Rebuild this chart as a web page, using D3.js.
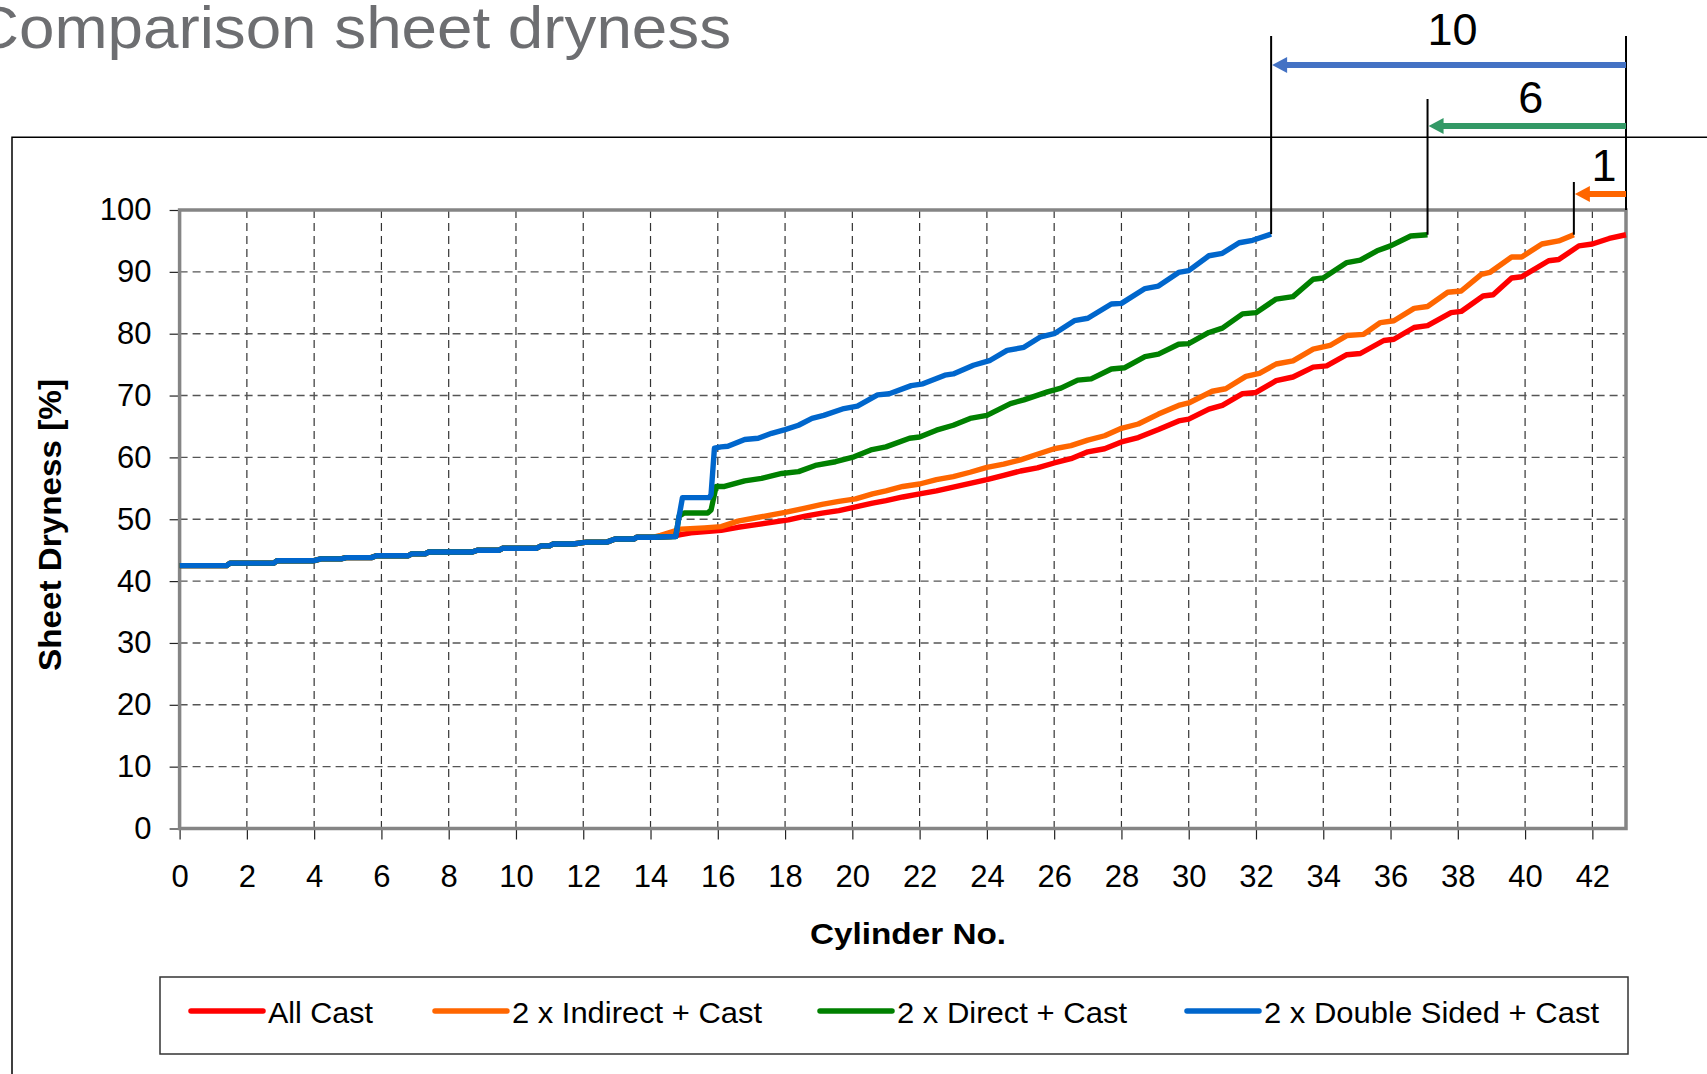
<!DOCTYPE html>
<html><head><meta charset="utf-8">
<script src="https://cdn.jsdelivr.net/npm/d3@7"></script>
<style>
body{margin:0;background:#fff;}
svg{display:block;}
text{font-family:"Liberation Sans",Arial,sans-serif;}
</style>
</head><body>
<svg id="chart" width="1707" height="1074"></svg>
<script>
// ---------- DATA ----------
const titleText = "Comparison sheet dryness";
const xAxisTitle = "Cylinder No.";
const yAxisTitle = "Sheet Dryness [%]";
const xTickValues = [0,2,4,6,8,10,12,14,16,18,20,22,24,26,28,30,32,34,36,38,40,42];
const yTickValues = [0,10,20,30,40,50,60,70,80,90,100];

const seriesNames  = ["All Cast","2 x Indirect + Cast","2 x Direct + Cast","2 x Double Sided + Cast"];
const seriesColors = ["#ff0000","#ff6600","#008000","#0066cc"];

// shared first section (all four curves coincide)
const commonX = [0,1.4,1.5,2.8,2.9,4.0,4.2,4.8,4.95,5.7,5.85,6.8,6.9,7.3,7.4,8.7,8.85,9.5,9.6,10.6,10.75,11.0,11.1,11.7,12.1,12.7,12.95,13.5,13.6,14.1];
const commonY = [42.5,42.5,42.9,42.9,43.3,43.3,43.6,43.6,43.8,43.8,44.1,44.1,44.4,44.4,44.7,44.7,45.0,45.0,45.3,45.3,45.7,45.7,46.0,46.0,46.3,46.3,46.8,46.8,47.1,47.1];

const allCastX = [14.6,14.9,15.2,16.1,16.6,17.1,17.6,18.1,18.6,19.1,19.6,20.1,20.6,21.0,21.5,22.0,22.5,23.0,23.5,24.0,24.5,25.0,25.5,26.0,26.5,27.0,27.5,28.0,28.5,29.1,29.7,30.0,30.6,31.0,31.6,32.0,32.6,33.1,33.7,34.1,34.7,35.1,35.8,36.1,36.7,37.1,37.8,38.1,38.75,39.05,39.6,39.9,40.7,41.0,41.6,42.0,42.5,43.0];
const allCastY = [47.2,47.5,47.8,48.2,48.7,49.1,49.5,49.9,50.5,51.0,51.4,52.0,52.6,53.0,53.6,54.1,54.6,55.2,55.8,56.4,57.1,57.8,58.3,59.1,59.8,60.9,61.4,62.5,63.2,64.5,65.9,66.2,67.8,68.4,70.3,70.5,72.4,73.0,74.6,74.8,76.6,76.8,78.9,79.1,81.0,81.3,83.4,83.6,86.1,86.3,89.0,89.2,91.8,92.0,94.2,94.5,95.4,96.0];

const indirectX = [14.3,14.9,15.6,16.1,16.6,17.1,17.6,18.0,18.6,19.1,19.6,20.1,20.6,21.0,21.5,22.0,22.5,23.0,23.5,24.0,24.5,25.0,25.5,26.0,26.5,27.0,27.5,28.0,28.5,29.1,29.7,30.0,30.7,31.1,31.7,32.1,32.6,33.1,33.7,34.2,34.7,35.2,35.7,36.1,36.7,37.1,37.7,38.1,38.7,38.95,39.6,39.9,40.5,41.0,41.45];
const indirectY = [47.4,48.4,48.6,48.8,49.7,50.2,50.7,51.1,51.8,52.4,52.9,53.3,54.1,54.6,55.3,55.7,56.4,56.9,57.6,58.4,58.9,59.6,60.5,61.4,61.9,62.8,63.5,64.7,65.4,67.0,68.4,68.8,70.7,71.1,73.1,73.6,75.1,75.6,77.5,78.1,79.7,79.9,81.8,82.1,84.1,84.4,86.7,86.9,89.6,89.9,92.4,92.4,94.5,95.0,96.0];

const directX = [14.75,14.85,15.0,15.7,15.8,15.95,16.2,16.8,17.3,17.9,18.4,18.9,19.5,20.05,20.55,21.0,21.7,22.0,22.5,23.0,23.5,24.0,24.7,25.1,25.8,26.2,26.7,27.1,27.7,28.1,28.7,29.1,29.7,30.0,30.6,31.0,31.6,32.0,32.6,33.1,33.7,34.0,34.7,35.1,35.6,36.0,36.6,37.1];
const directY = [47.2,50.5,51.0,51.0,51.5,55.3,55.3,56.2,56.6,57.4,57.7,58.7,59.3,60.1,61.2,61.7,63.1,63.3,64.4,65.2,66.3,66.8,68.7,69.3,70.6,71.2,72.5,72.7,74.3,74.5,76.3,76.7,78.3,78.4,80.2,80.9,83.2,83.4,85.6,86.0,88.8,89.0,91.5,91.9,93.4,94.2,95.8,96.0];

const doubleX = [14.75,14.85,14.95,15.75,15.8,15.9,16.1,16.3,16.8,17.2,17.6,18.0,18.4,18.8,19.15,19.75,20.15,20.75,21.1,21.75,22.1,22.75,23.0,23.6,24.1,24.6,25.1,25.6,26.0,26.6,27.0,27.7,28.0,28.7,29.1,29.7,30.0,30.6,31.0,31.5,31.9,32.45];
const doubleY = [47.2,50.5,53.5,53.5,54.0,61.5,61.7,61.8,62.9,63.1,63.9,64.5,65.2,66.3,66.8,67.9,68.3,70.1,70.3,71.6,71.9,73.3,73.5,74.9,75.7,77.3,77.8,79.5,80.0,82.1,82.5,84.8,84.9,87.3,87.7,89.9,90.2,92.6,93.0,94.7,95.1,96.1];

// annotations: cylinders saved vs "All Cast"
const annotLabels = ["10","6","1"];
const annotSeries = [3,2,1];
const annotColors = ["#4472c4","#339966","#ff6600"];

// ---------- LAYOUT ----------
const W = 1707, H = 1074;
const plot = {left:179.6, right:1626, top:210, bottom:828.5};
const svg = d3.select("#chart");

const x = d3.scaleLinear().domain([0,43]).range([plot.left, plot.right]);
const y = d3.scaleLinear().domain([0,100]).range([plot.bottom, plot.top]);

const tails = [[allCastX,allCastY],[indirectX,indirectY],[directX,directY],[doubleX,doubleY]];
const series = tails.map((t,i)=>({
  name: seriesNames[i], color: seriesColors[i],
  pts: commonX.map((cx,j)=>[cx,commonY[j]]).concat(t[0].map((tx,j)=>[tx,t[1][j]]))
}));

// outer frame (extends beyond the view)
svg.append("path")
  .attr("d", `M12,${H+5} L12,137.3 L${W+5},137.3`)
  .attr("fill","none").attr("stroke","#000").attr("stroke-width",1.5);

// title
svg.append("text").text(titleText)
  .attr("x",-27).attr("y",48)
  .attr("font-size",60).attr("fill","#6d6e71")
  .attr("textLength",758).attr("lengthAdjust","spacingAndGlyphs");

// grid
const g = svg.append("g");
g.selectAll("line.vg").data(xTickValues.filter(v=>v>0)).join("line")
  .attr("x1",d=>x(d)).attr("x2",d=>x(d))
  .attr("y1",plot.top).attr("y2",plot.bottom)
  .attr("stroke","#333").attr("stroke-width",1.2).attr("stroke-dasharray","8,5");
g.selectAll("line.hg").data(yTickValues.filter(v=>v>0 && v<100)).join("line")
  .attr("x1",plot.left).attr("x2",plot.right)
  .attr("y1",d=>y(d)).attr("y2",d=>y(d))
  .attr("stroke","#555").attr("stroke-width",1.4).attr("stroke-dasharray","8,5");

// axes
const xAxis = svg.append("g").attr("transform",`translate(0,${plot.bottom})`)
  .call(d3.axisBottom(x).tickValues(xTickValues).tickSize(11).tickPadding(25).tickFormat(d3.format("d")));
const yAxis = svg.append("g").attr("transform",`translate(${plot.left},0)`)
  .call(d3.axisLeft(y).tickValues(yTickValues).tickSize(10).tickPadding(18).tickFormat(d3.format("d")));
[xAxis,yAxis].forEach(a=>{
  a.select(".domain").remove();
  a.selectAll(".tick line").attr("stroke","#222").attr("stroke-width",1.2);
  a.selectAll(".tick text").attr("font-size",31).attr("fill","#000")
    .attr("font-family","'Liberation Sans',Arial,sans-serif");
});

// plot border
svg.append("rect")
  .attr("x",plot.left).attr("y",plot.top)
  .attr("width",plot.right-plot.left).attr("height",plot.bottom-plot.top)
  .attr("fill","none").attr("stroke","#858585").attr("stroke-width",3.5);

// axis titles
svg.append("text").text(xAxisTitle)
  .attr("x",810).attr("y",944)
  .attr("font-size",30).attr("font-weight","bold")
  .attr("textLength",196).attr("lengthAdjust","spacingAndGlyphs");
svg.append("text").text(yAxisTitle)
  .attr("transform","translate(61,671) rotate(-90)")
  .attr("font-size",31).attr("font-weight","bold")
  .attr("textLength",292).attr("lengthAdjust","spacingAndGlyphs");

// series lines
const line = d3.line().x(d=>x(d[0])).y(d=>y(d[1]));
svg.append("g").selectAll("path").data(series).join("path")
  .attr("d",d=>line(d.pts))
  .attr("fill","none").attr("stroke",d=>d.color)
  .attr("stroke-width",5.4).attr("stroke-linejoin","round");

// annotations
const xEnd = x(43);
const arrowYs = [65,126,194];
const vTops = [36,99,182];
const labelDy = [-20,-13,-13];
const annot = svg.append("g");
annot.append("line").attr("x1",xEnd).attr("x2",xEnd).attr("y1",36).attr("y2",plot.top)
  .attr("stroke","#000").attr("stroke-width",2);
annotLabels.forEach((lab,i)=>{
  const s = series[annotSeries[i]];
  const last = s.pts[s.pts.length-1];
  const xs = x(last[0]), ys = y(last[1]);
  annot.append("line").attr("x1",xs).attr("x2",xs).attr("y1",vTops[i]).attr("y2",ys)
    .attr("stroke","#000").attr("stroke-width",2);
  const ay = arrowYs[i];
  annot.append("line").attr("x1",xEnd).attr("x2",xs+12).attr("y1",ay).attr("y2",ay)
    .attr("stroke",annotColors[i]).attr("stroke-width",6);
  annot.append("path").attr("d",`M${xs+1},${ay} L${xs+16},${ay-8} L${xs+16},${ay+8} Z`)
    .attr("fill",annotColors[i]);
  annot.append("text").text(lab)
    .attr("x",(xs+xEnd)/2+4).attr("y",ay+labelDy[i])
    .attr("text-anchor","middle").attr("font-size",45).attr("fill","#000");
});

// legend
const leg = svg.append("g");
leg.append("rect").attr("x",160).attr("y",977).attr("width",1468).attr("height",77)
  .attr("fill","#fff").attr("stroke","#333").attr("stroke-width",1.5);
const legLineX = [191,435,820,1187];
const legTextLen = [105,250,230,335];
seriesNames.forEach((n,i)=>{
  leg.append("line").attr("x1",legLineX[i]).attr("x2",legLineX[i]+72)
    .attr("y1",1011).attr("y2",1011)
    .attr("stroke",seriesColors[i]).attr("stroke-width",5.5).attr("stroke-linecap","round");
  leg.append("text").text(n).attr("x",legLineX[i]+77).attr("y",1023)
    .attr("font-size",29).attr("fill","#000")
    .attr("textLength",legTextLen[i]).attr("lengthAdjust","spacingAndGlyphs");
});
</script>
</body></html>
